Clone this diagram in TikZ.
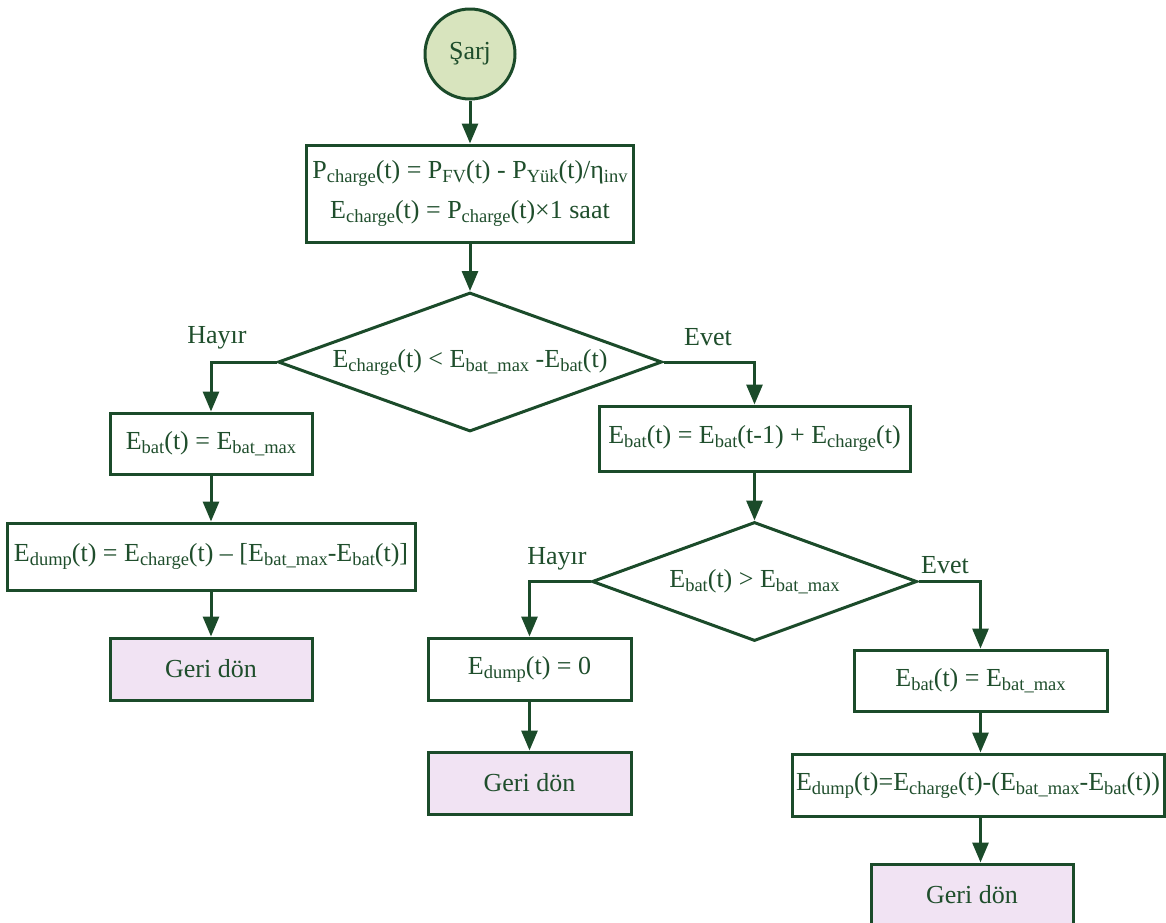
\documentclass[tikz,border=0pt]{standalone}
\usepackage{fontspec}
\setmainfont{Liberation Serif}
\usetikzlibrary{shapes.geometric,arrows.meta}

\definecolor{ink}{HTML}{1B4B2A}
\definecolor{txt}{HTML}{1F4E2C}
\definecolor{startfill}{HTML}{D8E4BE}
\definecolor{endfill}{HTML}{F1E3F3}

% lowered, smaller subscript as used in the formulas
\newcommand\sbs[1]{\raisebox{-4pt}{\fontsize{18.5}{18.5}\selectfont #1}}

\tikzset{
  base/.style={draw=ink, line width=3pt, text=txt, inner sep=0pt,
               font=\fontsize{26}{40}\selectfont},
  procbox/.style={base, rectangle, fill=white},
  endbox/.style={base, rectangle, fill=endfill},
  decision/.style={base, diamond, aspect=3, fill=white},
  startnode/.style={base, circle, fill=startfill, minimum size=90pt},
  branchlabel/.style={text=txt, inner sep=0pt, anchor=base,
                      font=\fontsize{26}{30}\selectfont},
  arr/.style={draw=ink, line width=3pt, -{Triangle[length=20pt,width=16pt]}}
}

\begin{document}
\begin{tikzpicture}[x=1pt, y=-1pt]
\clip (0,0) rectangle (1166,922);

% start
\node[startnode] (start) at (470,54) {Şarj};

% first computation block
\node[procbox, minimum width=327pt, minimum height=97pt, align=center] (b1) at (470,193.5)
  {P\sbs{charge}(t) = P\sbs{FV}(t) - P\sbs{Yük}(t)/η\sbs{inv}\\
   E\sbs{charge}(t) = P\sbs{charge}(t)×1 saat};

% first decision
\node[decision, minimum width=384pt, minimum height=139pt] (d1) at (470,362)
  {E\sbs{charge}(t) < E\sbs{bat\_max} -E\sbs{bat}(t)};

% left branch
\node[procbox, minimum width=202pt, minimum height=61pt] (L1) at (211,443.5)
  {E\sbs{bat}(t) = E\sbs{bat\_max}};
\node[procbox, minimum width=408pt, minimum height=67pt] (L2) at (211,556.5)
  {E\sbs{dump}(t) = E\sbs{charge}(t) – [E\sbs{bat\_max}-E\sbs{bat}(t)]};
\node[endbox, minimum width=202pt, minimum height=62pt] (L3) at (211,669)
  {Geri dön};

% right branch
\node[procbox, minimum width=311pt, minimum height=65pt] (R1) at (754.5,438.5)
  {E\sbs{bat}(t) = E\sbs{bat}(t-1) + E\sbs{charge}(t)};
\node[decision, minimum width=325pt, minimum height=119pt] (d2) at (754.5,581.5)
  {E\sbs{bat}(t) > E\sbs{bat\_max}};

\node[procbox, minimum width=203pt, minimum height=62pt] (M1) at (529.5,669)
  {E\sbs{dump}(t) = 0};
\node[endbox, minimum width=203pt, minimum height=62pt] (M2) at (529.5,783)
  {Geri dön};

\node[procbox, minimum width=253pt, minimum height=61pt] (R2) at (980.5,680.5)
  {E\sbs{bat}(t) = E\sbs{bat\_max}};
\node[procbox, minimum width=372pt, minimum height=62pt] (R3) at (978,785)
  {E\sbs{dump}(t)=E\sbs{charge}(t)-(E\sbs{bat\_max}-E\sbs{bat}(t))};
\node[endbox, minimum width=202pt, minimum height=62pt] (R4) at (972,895)
  {Geri dön};

% branch labels
\node[branchlabel] (h1) at (217,343) {Hayır};
\node[branchlabel] (e1) at (708,345) {Evet};
\node[branchlabel] (h2) at (557,564) {Hayır};
\node[branchlabel] (e2) at (945,573) {Evet};

% connectors
\draw[arr] (start.south) -- (b1.north);
\draw[arr] (b1.south) -- (d1.north);
\draw[arr] (d1.west) -| (L1.north);
\draw[arr] (L1.south) -- (L2.north);
\draw[arr] (L2.south) -- (L3.north);
\draw[arr] (d1.east) -| (R1.north);
\draw[arr] (R1.south) -- (d2.north);
\draw[arr] (d2.west) -| (M1.north);
\draw[arr] (M1.south) -- (M2.north);
\draw[arr] (d2.east) -| (R2.north);
\draw[arr] (R2.south) -- (R2.south |- R3.north);
\draw[arr] (R2.south |- R3.south) -- (R2.south |- R4.north);
\end{tikzpicture}
\end{document}
